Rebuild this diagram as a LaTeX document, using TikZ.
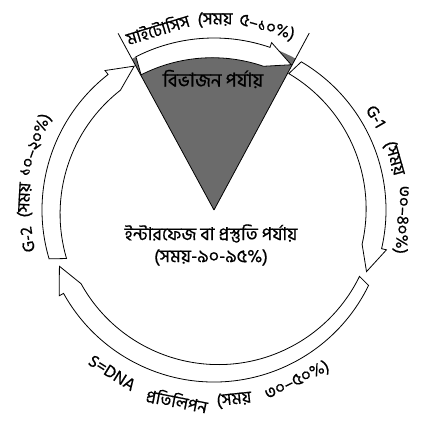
\documentclass[tikz,border=0pt]{standalone}
\usepackage{fontspec}
\setmainfont[Script=Bengali, FakeBold=0.6]{Hind Siliguri}
\def\Ri{157}\def\Ro{172}\def\Rm{164.5}\def\Rib{152}\def\Rob{177}
\newcommand\cycarrow[2]{%
  \pgfmathsetmacro\hb{#2+9}%
  \draw[ringarrow] (#1:\Ro) arc[start angle=#1, end angle=\hb, radius=\Ro]
    -- (\hb:\Rob) -- (#2:\Rm) -- (\hb:\Rib)
    arc[start angle=\hb, end angle=#1, radius=\Ri] -- cycle;}
\begin{document}
\begin{tikzpicture}[x=1pt,y=1pt,
  ringarrow/.style={draw=black, fill=white, line width=0.8pt, line join=miter},
  lbl/.style={font=\fontsize{17}{18}\selectfont, inner sep=0pt},
  midlbl/.style={font=\fontsize{18}{22}\selectfont, inner sep=0pt, align=center}]
\useasboundingbox (-214,-214) rectangle (210,210);
\fill[black!58] (0,0) -- (118.5:172) arc[start angle=118.5, end angle=61.7, radius=172] -- cycle;
\cycarrow{117}{62}
\cycarrow{59.5}{-22}
\cycarrow{-26}{-160}
\cycarrow{196.5}{119}
\draw[line width=0.8pt] (0,0) -- (118.5:201);
\draw[line width=0.8pt] (0,0) -- (61.7:201);
% labels
\node[inner sep=0pt, font=\fontsize{19}{20}\selectfont] (bibhajan) at (-1,131) {বিভাজন পর্যায়};
\node[midlbl] (inter) at (-3,-35) {ইন্টারফেজ বা প্রস্তুতি পর্যায়\\(সময়-৯০-৯৫\%)};
% top
\node[lbl, rotate=17] (m1) at (107.3:190) {মাইটোসিস};
\node[lbl, rotate=0] (m2) at (89.7:190) {(সময়};
\node[lbl, rotate=-16] (m3) at (73.8:190) {৫–১০\%)};
% right G-1
\node[lbl, rotate=-60] (g1a) at (30:187) {G-1};
\node[lbl, rotate=-74] (g1b) at (16:187) {(সময়};
\node[lbl, rotate=-93] (g1c) at (-3:188) {৩০–৪০\%)};
% left G-2
\node[lbl, rotate=99] (g2a) at (189:189) {G-2};
\node[lbl, rotate=87] (g2b) at (177:189) {(সময়};
\node[lbl, rotate=70] (g2c) at (160:190) {১০–২০\%)};
% bottom S
\node[lbl, rotate=-32] (s1) at (-122:192) {S=DNA};
\node[lbl, rotate=-11] (s2) at (-101:194) {প্রতিলিপন};
\node[lbl, rotate=6] (s3) at (-84:191) {(সময়};
\node[lbl, rotate=26] (s4) at (-64:190) {৩০–৫০\%)};
\end{tikzpicture}
\end{document}
